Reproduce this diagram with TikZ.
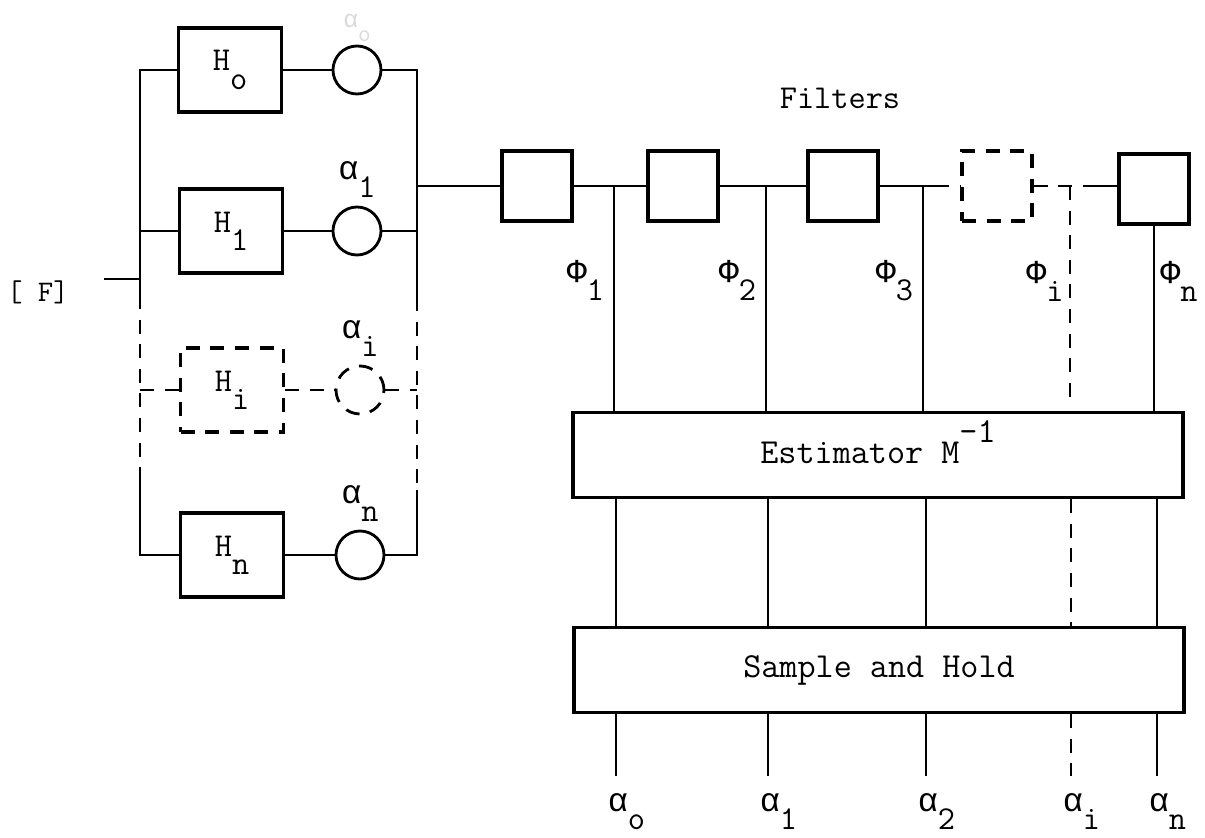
\documentclass[tikz,border=0pt]{standalone}
\usepackage{fontspec}
\newfontfamily\grk{Liberation Mono}
\usetikzlibrary{positioning}
\newcommand{\gk}[1]{{\grk #1}}
\newcommand{\lowsub}[1]{\raisebox{-.55em}{#1}}
\newcommand{\highsup}[1]{\smash{\raisebox{.6em}{#1}}}
\tikzset{
  wire/.style={line width=1.5pt},
  tap/.style={line width=1.2pt},
  dsh/.style={dash pattern=on 8pt off 6pt},
  hbox/.style={draw, line width=1.9pt, minimum width=2.06cm, minimum height=1.68cm, inner sep=0pt, font=\ttfamily\fontsize{19}{21}\selectfont},
  filt/.style={draw, line width=1.9pt, minimum size=1.4cm, inner sep=0pt},
  gain/.style={draw, circle, line width=1.6pt, minimum size=0.96cm, inner sep=0pt},
  bigbox/.style={draw, line width=1.9pt, minimum width=12.2cm, minimum height=1.7cm, font=\ttfamily\fontsize{20}{22}\selectfont},
  lbl/.style={font=\ttfamily\fontsize{19}{21}\selectfont, inner sep=1pt},
}
\begin{document}
\begin{tikzpicture}[x=0.02cm, y=-0.02cm]
	\useasboundingbox (0,0) rectangle (1205,838);
	% parallel branches
	\node[lbl, font=\ttfamily\fontsize{17}{19}\selectfont] (F) at (38,292) {[ F]};
	\node[hbox] (H0) at (230,70) {H\lowsub{o}\hspace{0.45cm}};
	\node[hbox] (H1) at (231,231) {H\lowsub{1}\hspace{0.45cm}};
	\node[hbox, dsh] (Hi) at (232,390) {H\lowsub{i}\hspace{0.45cm}};
	\node[hbox] (Hn) at (232,555) {H\lowsub{n}\hspace{0.45cm}};
	\node[gain] (a0) at (357,70) {};
	\node[gain] (a1) at (357,231) {};
	\node[gain, dsh] (ai) at (360,390) {};
	\node[gain] (an) at (360,555) {};
	\node[lbl, gray!30, font=\ttfamily\fontsize{14}{16}\selectfont, above=0.02cm of a0] (la0) {\gk{α}\lowsub{o}};
	\node[lbl, above=0.12cm of a1] (la1) {\gk{α}\lowsub{1}};
	\node[lbl, above=0.12cm of ai] (lai) {\gk{α}\lowsub{i}};
	\node[lbl, above=0.12cm of an] (lan) {\gk{α}\lowsub{n}};
	\coordinate (fin) at (104,279);
	\coordinate (lb1) at (140,295);
	\coordinate (lb2) at (140,475);
	\coordinate (rb1) at (417,297);
	\coordinate (rb2) at (417,490);
	\draw[wire] (fin) -- (fin -| lb1);
	\draw[wire] (H0.west) -| (lb1);
	\draw[wire, dsh] (lb1) -- (lb2);
	\draw[wire] (lb2) |- (Hn.west);
	\draw[wire] (H1.west) -- (H1.west -| lb1);
	\draw[wire, dsh] (Hi.west) -- (Hi.west -| lb1);
	\draw[wire] (H0) -- (a0);
	\draw[wire] (H1) -- (a1);
	\draw[wire, dsh] (Hi) -- (ai);
	\draw[wire] (Hn) -- (an);
	\draw[wire] (a0.east) -| (rb1);
	\draw[wire, dsh] (rb1) -- (rb2);
	\draw[wire] (rb2) |- (an.east);
	\draw[wire] (a1.east) -- (a1.east -| rb1);
	\draw[wire, dsh] (ai.east) -- (ai.east -| rb1);
	% filter chain
	\node[lbl] (ftitle) at (840,98) {Filters};
	\node[filt] (f1) at (537,186) {};
	\node[filt] (f2) at (683,186) {};
	\node[filt] (f3) at (843,186) {};
	\node[filt, dsh] (fi) at (997,186) {};
	\node[filt] (fn) at (1154,189) {};
	\coordinate (s3) at (935,186);
	\coordinate (si) at (1088,186);
	\draw[wire] (rb1 |- f1.west) -- (f1.west);
	\draw[wire] (f1) -- (f2);
	\draw[wire] (f2) -- (f3);
	\draw[wire] (f3.east) -- (s3);
	\draw[wire, dsh] (s3) -- (fi.west);
	\draw[wire, dsh] (fi.east) -- (si);
	\draw[wire] (si) -- (si -| fn.west);
	% estimator and sample and hold
	\node[bigbox] (est) at (878,455) {\raisebox{3pt}{Estimator M\highsup{-1}}};
	\node[bigbox] (sh) at (879,670) {Sample and Hold};
	\coordinate (t1) at (614,186);
	\coordinate (t2) at (766,186);
	\coordinate (t3) at (923,186);
	\coordinate (ti) at (1070,186);
	\coordinate (tie) at (1070,398);
	\draw[tap] (t1) -- node[lbl, left=4pt, pos=.42] (p1) {\gk{Φ}\lowsub{1}} (t1 |- est.north);
	\draw[tap] (t2) -- node[lbl, left=4pt, pos=.42] (p2) {\gk{Φ}\lowsub{2}} (t2 |- est.north);
	\draw[tap] (t3) -- node[lbl, left=4pt, pos=.42] (p3) {\gk{Φ}\lowsub{3}} (t3 |- est.north);
	\draw[tap, dsh] (ti) -- node[lbl, left=2pt, pos=.45] (pi) {\gk{Φ}\lowsub{i}} (tie);
	\draw[tap] (fn.south) -- node[lbl, right=2pt, pos=.3] (pn) {\gk{Φ}\lowsub{n}} (fn.south |- est.north);
	\coordinate (o0) at (616,776);
	\coordinate (o1) at (768,776);
	\coordinate (o2) at (926,776);
	\coordinate (oi) at (1071,776);
	\coordinate (on) at (1157,776);
	\draw[tap] (o0 |- est.south) -- (o0 |- sh.north);
	\draw[tap] (o1 |- est.south) -- (o1 |- sh.north);
	\draw[tap] (o2 |- est.south) -- (o2 |- sh.north);
	\draw[tap, dsh] (oi |- est.south) -- (oi |- sh.north);
	\draw[tap] (on |- est.south) -- (on |- sh.north);
	\draw[tap] (o0 |- sh.south) -- (o0);
	\draw[tap] (o1 |- sh.south) -- (o1);
	\draw[tap] (o2 |- sh.south) -- (o2);
	\draw[tap, dsh] (oi |- sh.south) -- (oi);
	\draw[tap] (on |- sh.south) -- (on);
	\node[lbl, below=0.3cm of o0, xshift=6pt] (b0) {\gk{α}\lowsub{o}};
	\node[lbl, below=0.3cm of o1, xshift=6pt] (b1) {\gk{α}\lowsub{1}};
	\node[lbl, below=0.3cm of o2, xshift=6pt] (b2) {\gk{α}\lowsub{2}};
	\node[lbl, below=0.3cm of oi, xshift=6pt] (bi) {\gk{α}\lowsub{i}};
	\node[lbl, below=0.3cm of on, xshift=6pt] (bn) {\gk{α}\lowsub{n}};
\end{tikzpicture}
\end{document}
